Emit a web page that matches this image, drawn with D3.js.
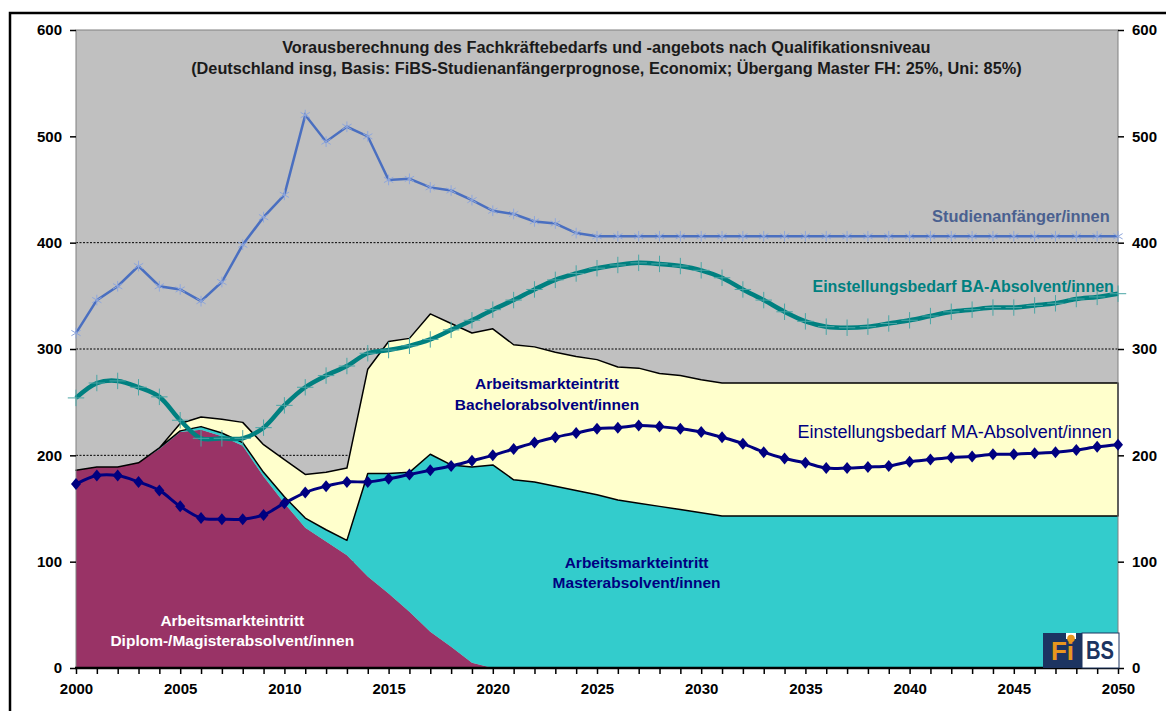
<!DOCTYPE html>
<html>
<head>
<meta charset="utf-8">
<script src="https://cdn.jsdelivr.net/npm/d3@7"></script>
<style>
  body { margin: 0; background: #fff; }
  svg { display: block; }
  text { font-family: "Liberation Sans", Arial, sans-serif; }
</style>
</head>
<body>
<div id="chart"></div>
<script>
// values, 2000..2050 (thousands)
const years = d3.range(2000, 2051);

const studienanfaenger = [315, 346, 359, 378, 359, 356, 345, 363, 398, 424,
  445, 520, 495, 509, 500, 459, 460, 452, 449, 440,
  430, 427, 420, 418, 409, 406, 406, 406, 406, 406,
  406, 406, 406, 406, 406, 406, 406, 406, 406, 406,
  406, 406, 406, 406, 406, 406, 406, 406, 406, 406, 406];

const bedarfBA = [254, 268, 270, 264, 255, 233, 216, 216, 216, 226,
  247, 264, 275, 284, 296, 299, 303, 309, 318, 327,
  337, 346, 356, 365, 371, 376, 379, 381, 380, 378,
  374, 367, 356, 346, 335, 326, 321, 320, 321, 324,
  327, 331, 335, 337, 339, 339, 341, 343, 347, 349, 352];

const bedarfMA = [173, 181, 181, 175, 167, 152, 141, 140, 140, 144,
  155, 165, 171, 175, 175, 178, 182, 186, 190, 195,
  200, 206, 212, 217, 221, 225, 226, 228, 227, 225,
  222, 217, 211, 203, 197, 193, 188, 188, 189, 190,
  194, 196, 198, 199, 201, 201, 202, 203, 205, 208, 210];

const diplom = [186, 189, 189, 193, 206, 222, 224, 218, 209, 180,
  155, 132, 119, 106, 86, 70, 53, 34, 20, 5,
  0, 0, 0, 0, 0, 0, 0, 0, 0, 0,
  0, 0, 0, 0, 0, 0, 0, 0, 0, 0,
  0, 0, 0, 0, 0, 0, 0, 0, 0, 0, 0];

const master = [0, 0, 0, 0, 1, 1, 3, 3, 3, 4,
  6, 9, 11, 14, 97, 113, 131, 167, 171, 184,
  191, 177, 175, 171, 167, 163, 158, 155, 152, 149,
  146, 143, 143, 143, 143, 143, 143, 143, 143, 143,
  143, 143, 143, 143, 143, 143, 143, 143, 143, 143, 143];

const bachelor = [0, 0, 0, 0, 0, 7, 9, 13, 19, 26,
  35, 41, 54, 68, 98, 124, 126, 132, 133, 126,
  128, 127, 127, 126, 126, 127, 125, 127, 125, 126,
  125, 125, 125, 125, 125, 125, 125, 125, 125, 125,
  125, 125, 125, 125, 125, 125, 125, 125, 125, 125, 125];

const yTicks = [0, 100, 200, 300, 400, 500, 600];
const gridValues = [100, 200, 300, 400];
const xTickLabels = [2000, 2005, 2010, 2015, 2020, 2025, 2030, 2035, 2040, 2045, 2050];

const titleLines = [
  "Vorausberechnung des Fachkräftebedarfs und -angebots nach Qualifikationsniveau",
  "(Deutschland insg, Basis: FiBS-Studienanfängerprognose, Economix; Übergang Master FH: 25%, Uni: 85%)"
];

const W = 1166, H = 711;
const svg = d3.select("#chart").append("svg")
  .attr("width", W)
  .attr("height", H);

const x = d3.scaleLinear().domain([2000, 2050]).range([76, 1118]);
const y = d3.scaleLinear().domain([0, 600]).range([668, 30]);

// outer frame (runs off the right/bottom edge)
svg.append("rect")
  .attr("x", 10).attr("y", 13)
  .attr("width", 1200).attr("height", 760)
  .attr("fill", "none")
  .attr("stroke", "#000")
  .attr("stroke-width", 2.5);

// plot area
svg.append("rect")
  .attr("x", x(2000)).attr("y", y(600))
  .attr("width", x(2050) - x(2000)).attr("height", y(0) - y(600))
  .attr("fill", "#c0c0c0");

svg.selectAll(".grid")
  .data(gridValues)
  .join("line")
  .attr("x1", x(2000)).attr("x2", x(2050))
  .attr("y1", d => y(d)).attr("y2", d => y(d))
  .attr("stroke", "#000")
  .attr("stroke-width", 1)
  .attr("stroke-dasharray", "2,1.5");

// stacked areas
const table = years.map((yr, i) => ({ year: yr, diplom: diplom[i], master: master[i], bachelor: bachelor[i] }));
const stack = d3.stack().keys(["diplom", "master", "bachelor"]);
const series = stack(table);
const areaColors = { diplom: "#993366", master: "#33cccc", bachelor: "#ffffcc" };

const area = d3.area()
  .x((d, i) => x(years[i]))
  .y0(d => y(d[0]))
  .y1(d => y(d[1]));

svg.selectAll(".area")
  .data(series)
  .join("path")
  .attr("d", area)
  .attr("fill", d => areaColors[d.key])
  .attr("stroke", d => d.key === "bachelor" ? "#000" : "none")
  .attr("stroke-width", 1.5)
  .attr("stroke-linejoin", "round");

// plot border
svg.append("rect")
  .attr("x", x(2000)).attr("y", y(600))
  .attr("width", x(2050) - x(2000)).attr("height", y(0) - y(600))
  .attr("fill", "none")
  .attr("stroke", "#808080")
  .attr("stroke-width", 1);

// lines
const straight = d3.line().x((d, i) => x(years[i])).y(d => y(d));
const smooth = d3.line().x((d, i) => x(years[i])).y(d => y(d)).curve(d3.curveCatmullRom);

// Studienanfaenger
svg.append("path")
  .attr("d", straight(studienanfaenger))
  .attr("fill", "none")
  .attr("stroke", "#4a6fc0")
  .attr("stroke-width", 2.5);

const asterisk = d3.symbol().type(d3.symbolAsterisk).size(80);
svg.selectAll(".mk-st")
  .data(studienanfaenger)
  .join("path")
  .attr("transform", (d, i) => `translate(${x(years[i])},${y(d)})`)
  .attr("d", asterisk)
  .attr("fill", "none")
  .attr("stroke", "#8ea6dc")
  .attr("stroke-width", 1);

// BA demand
svg.append("path")
  .attr("d", smooth(bedarfBA))
  .attr("fill", "none")
  .attr("stroke", "#008080")
  .attr("stroke-width", 4.5);

const plus = d3.symbol().type(d3.symbolPlus).size(90);
svg.selectAll(".mk-ba")
  .data(bedarfBA)
  .join("path")
  .attr("transform", (d, i) => `translate(${x(years[i])},${y(d)})`)
  .attr("d", plus)
  .attr("fill", "none")
  .attr("stroke", "#4aa5a5")
  .attr("stroke-width", 1);

// MA demand
svg.append("path")
  .attr("d", smooth(bedarfMA))
  .attr("fill", "none")
  .attr("stroke", "#000080")
  .attr("stroke-width", 3);

svg.selectAll(".mk-ma")
  .data(bedarfMA)
  .join("path")
  .attr("transform", (d, i) => `translate(${x(years[i])},${y(d)})`)
  .attr("d", "M0,-6L5,0L0,6L-5,0Z")
  .attr("fill", "#000080");

// axes
const yLeft = d3.axisLeft(y).tickValues(yTicks).tickSize(6).tickPadding(8);
const yRight = d3.axisRight(y).tickValues(yTicks).tickSize(6).tickPadding(8);
const xAxis = d3.axisBottom(x).tickValues(years).tickSize(6).tickPadding(9)
  .tickFormat(d => xTickLabels.includes(d) ? d : "");

function styleAxis(g) {
  g.select(".domain").remove();
  g.selectAll("line").attr("stroke", "#000").attr("stroke-width", 1.5);
  g.selectAll("text")
    .attr("fill", "#000")
    .style("font-size", "15px")
    .style("font-weight", "bold");
}

svg.append("g").attr("transform", `translate(${x(2000)},0)`).call(yLeft).call(styleAxis);
svg.append("g").attr("transform", `translate(${x(2050)},0)`).call(yRight).call(styleAxis);
svg.append("g").attr("transform", `translate(0,${y(0)})`).call(xAxis).call(styleAxis);

svg.append("line")
  .attr("x1", x(2000) - 1).attr("x2", x(2050) + 1)
  .attr("y1", y(0)).attr("y2", y(0))
  .attr("stroke", "#000")
  .attr("stroke-width", 2.5);

// title
svg.selectAll(".title")
  .data(titleLines)
  .join("text")
  .attr("x", x(2025.45))
  .attr("y", (d, i) => 53 + i * 21)
  .attr("text-anchor", "middle")
  .attr("fill", "#1a1a1a")
  .style("font-size", "16.3px")
  .style("font-weight", "bold")
  .text(d => d);

// series labels
function label(text, xv, yv, color, weight, size, anchor) {
  svg.append("text")
    .attr("x", x(xv)).attr("y", y(yv))
    .attr("text-anchor", anchor)
    .attr("fill", color)
    .style("font-size", size + "px")
    .style("font-weight", weight)
    .text(text);
}

label("Studienanfänger/innen", 2049.6, 419.5, "#4a6090", "bold", 16.4, "end");
label("Einstellungsbedarf BA-Absolvent/innen", 2049.8, 354, "#008080", "bold", 16, "end");
label("Einstellungsbedarf MA-Absolvent/innen", 2049.7, 216, "#000080", "normal", 18, "end");

label("Arbeitsmarkteintritt", 2022.6, 262, "#000080", "bold", 15.5, "middle");
label("Bachelorabsolvent/innen", 2022.6, 243, "#000080", "bold", 15.5, "middle");
label("Arbeitsmarkteintritt", 2026.9, 94.5, "#000080", "bold", 15.5, "middle");
label("Masterabsolvent/innen", 2026.9, 75.5, "#000080", "bold", 15.5, "middle");
label("Arbeitsmarkteintritt", 2007.5, 39.5, "#ffffff", "bold", 15.5, "middle");
label("Diplom-/Magisterabsolvent/innen", 2007.5, 20.5, "#ffffff", "bold", 15.5, "middle");

// FiBS logo
const logo = svg.append("g");
logo.append("rect").attr("x", 1043).attr("y", 633).attr("width", 39).attr("height", 35).attr("fill", "#1c3461");
logo.append("rect").attr("x", 1082).attr("y", 633).attr("width", 37).attr("height", 35)
  .attr("fill", "#fff").attr("stroke", "#1c3461").attr("stroke-width", 1);
logo.append("text").attr("x", 1051).attr("y", 660)
  .attr("textLength", 23).attr("lengthAdjust", "spacingAndGlyphs")
  .attr("fill", "#e8961e").style("font-size", "26px").style("font-weight", "bold").text("Fi");
logo.append("rect").attr("x", 1066).attr("y", 633).attr("width", 10).attr("height", 6).attr("fill", "#fff");
logo.append("circle").attr("cx", 1071).attr("cy", 638.5).attr("r", 3.8).attr("fill", "#e8961e");
logo.append("text").attr("x", 1086).attr("y", 659)
  .attr("textLength", 28).attr("lengthAdjust", "spacingAndGlyphs")
  .attr("fill", "#1c3461").style("font-size", "25px").style("font-weight", "bold").text("BS");
</script>
</body>
</html>
